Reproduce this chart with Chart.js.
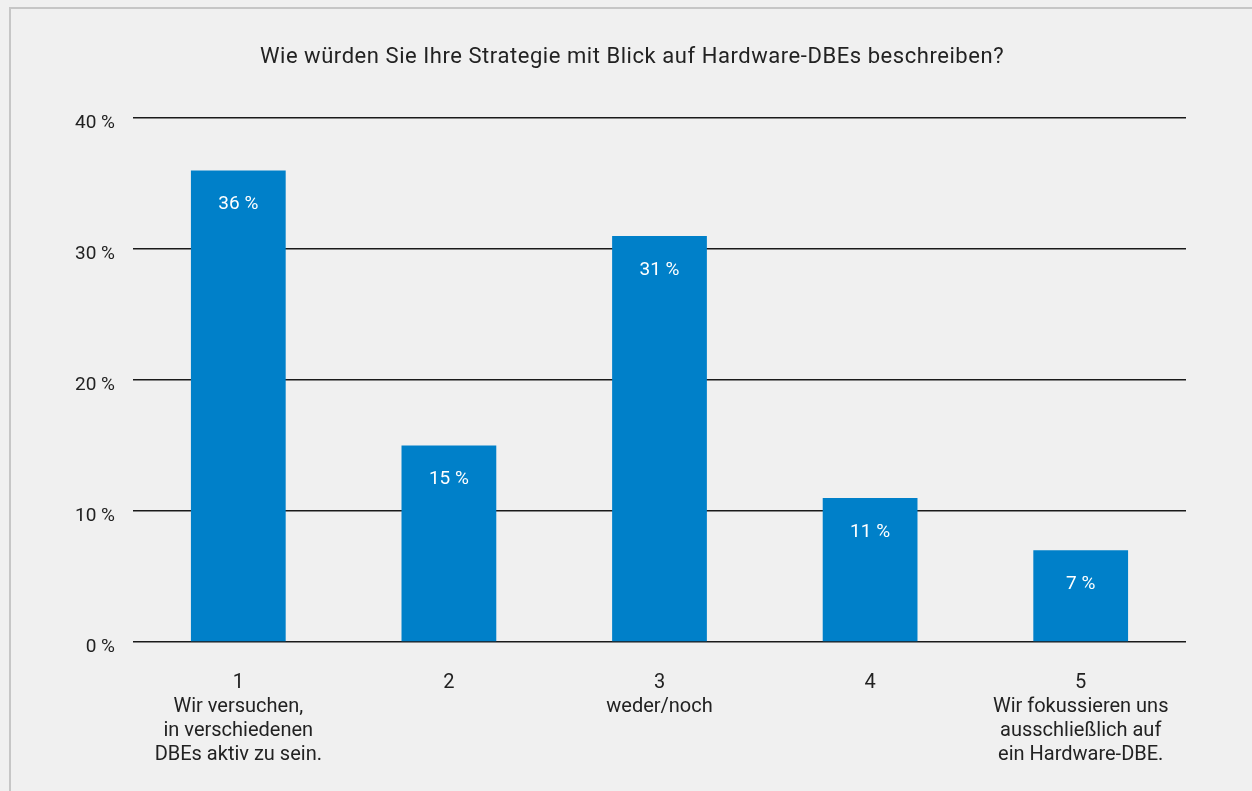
<!DOCTYPE html>
<html lang="de">
<head>
<meta charset="utf-8">
<title>Strategie Hardware-DBEs</title>
<script src="https://cdn.jsdelivr.net/npm/chart.js@4.4.1/dist/chart.umd.min.js"></script>
<style>
  html, body { margin: 0; padding: 0; background: #f0f0f0; overflow: hidden; }
  #frame {
    position: absolute; left: 9px; top: 7px; width: 1400px; height: 900px;
    border-top: 2px solid #c6c6c6; border-left: 2px solid #c6c6c6;
  }
  #wrap { position: absolute; left: 0; top: 0; width: 1252px; height: 791px; }
</style>
</head>
<body>
<div id="frame"></div>
<div id="wrap"><canvas id="strategyChart"></canvas></div>
<script>
let categories = [
    ["1", "Wir versuchen,", "in verschiedenen", "DBEs aktiv zu sein."],
    ["2"],
    ["3", "weder/noch"],
    ["4"],
    ["5", "Wir fokussieren uns", "ausschließlich auf", "ein Hardware-DBE."]
];
let shares = [36, 15, 31, 11, 7];      // percent of respondents
let yTicks = [0, 10, 20, 30, 40];      // tick values on the percent axis
let chartTitle = "Wie würden Sie Ihre Strategie mit Blick auf Hardware-DBEs beschreiben?";

let fontFamily = "Roboto, 'Liberation Sans', sans-serif";
let textColor = "#222222";
let barColor = "#0080c9";

// question text above the plot, centred on the frame rather than the plot
let frameTitle = {
    id: "frameTitle",
    afterDraw(chart) {
        let ctx = chart.ctx;
        ctx.save();
        ctx.fillStyle = textColor;
        ctx.font = "400 22px " + fontFamily;
        ctx.textAlign = "center";
        ctx.textBaseline = "middle";
        ctx.letterSpacing = "0.55px";
        ctx.fillText(chartTitle, 632, 57);
        ctx.restore();
    }
};

// writes the value inside each bar, near its top
let barValueLabels = {
    id: "barValueLabels",
    afterDatasetsDraw(chart) {
        let ctx = chart.ctx;
        let meta = chart.getDatasetMeta(0);
        ctx.save();
        ctx.fillStyle = "#ffffff";
        ctx.font = "400 19px " + fontFamily;
        ctx.textAlign = "center";
        ctx.textBaseline = "middle";
        meta.data.forEach((bar, i) => {
            ctx.fillText(shares[i] + " %", bar.x, bar.y + 34);
        });
        ctx.restore();
    }
};

let ctx = document.getElementById("strategyChart").getContext("2d");
let chart = new Chart(ctx, {
    type: "bar",
    data: {
        labels: categories,
        datasets: [{
            data: shares,
            backgroundColor: barColor,
            borderWidth: 0,
            barPercentage: 0.45,
            categoryPercentage: 1
        }]
    },
    options: {
        responsive: true,
        maintainAspectRatio: false,
        animation: false,
        layout: { padding: { left: 0, right: 66, top: 118, bottom: 0 } },
        plugins: {
            legend: { display: false },
            tooltip: { enabled: false },
            title: { display: false }
        },
        scales: {
            x: {
                afterFit(scale) { scale.height = 149; },
                grid: { display: false, drawTicks: false },
                border: { display: false },
                ticks: {
                    color: textColor,
                    font: { family: fontFamily, size: 20, lineHeight: 1.2 },
                    padding: 29,
                    maxRotation: 0,
                    autoSkip: false
                }
            },
            y: {
                min: 0,
                max: 40,
                afterFit(scale) { scale.width = 133; },
                afterBuildTicks(scale) { scale.ticks = yTicks.map(v => ({ value: v })); },
                grid: { color: "#1a1a1a", lineWidth: 1.5, drawTicks: false },
                border: { display: false },
                ticks: {
                    color: textColor,
                    font: { family: fontFamily, size: 19 },
                    padding: 18,
                    labelOffset: 5,
                    callback: v => v + " %"
                }
            }
        }
    },
    plugins: [barValueLabels, frameTitle]
});
</script>
</body>
</html>
